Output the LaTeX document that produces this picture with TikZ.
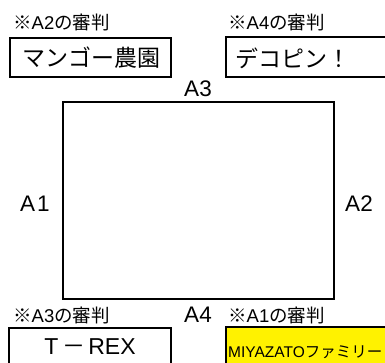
\documentclass[tikz,border=0pt]{standalone}
\usepackage{fontspec}
\setmainfont{Liberation Sans}
\newfontfamily\jp{Noto Sans CJK JP}
\begin{document}
\begin{tikzpicture}[x=1pt,y=-1pt,
  frame/.style={draw=black,line width=2pt},
  lab/.style={font=\fontsize{18.5}{18.5}\selectfont,inner sep=0pt,anchor=west},
  side/.style={font=\fontsize{22.5}{22.5}\selectfont,inner sep=0pt},
  big/.style={font=\fontsize{23}{23}\selectfont,inner sep=0pt}]
\useasboundingbox (0,0) rectangle (385,363);
% boxes
\draw[frame] (10,38) rectangle (171,77);
\draw[frame] (387,37) -- (226,37) -- (226,77) -- (387,77);
\draw[frame] (9,366) -- (9,328) -- (171,328) -- (171,366);
\fill[yellow] (226,327) rectangle (387,366);
\draw[frame] (226,366) -- (226,327) -- (387,327);
\draw[frame] (63,102) rectangle (334,299);
% labels
\node[lab] (l1) at (13,22) {{\jp ※}A2{\jp の審判}};
\node[lab] (l2) at (228,22) {{\jp ※}A4{\jp の審判}};
\node[lab] (l3) at (13,315) {{\jp ※}A3{\jp の審判}};
\node[lab] (l4) at (228,315) {{\jp ※}A1{\jp の審判}};
\node[big] (t1) at (91,58) {\jp マンゴー農園};
\node[big] (t2) at (293,58) {\jp デコピン！};
\node[big] (t3) at (90,347) {T\kern4pt{\jp －}\kern3pt REX};
\node[font=\fontsize{15.5}{15.5}\selectfont,inner sep=0pt,anchor=west] (t4) at (228,352) {MIYAZATO{\jp ファミリー}};
\node[side] (a3) at (198,89) {A3};
\node[side] (a4) at (198,315) {A4};
\node[side] (a1) at (35,204) {A{\kern2pt}1};
\node[side] (a2) at (359,204) {A2};
\end{tikzpicture}
\end{document}
